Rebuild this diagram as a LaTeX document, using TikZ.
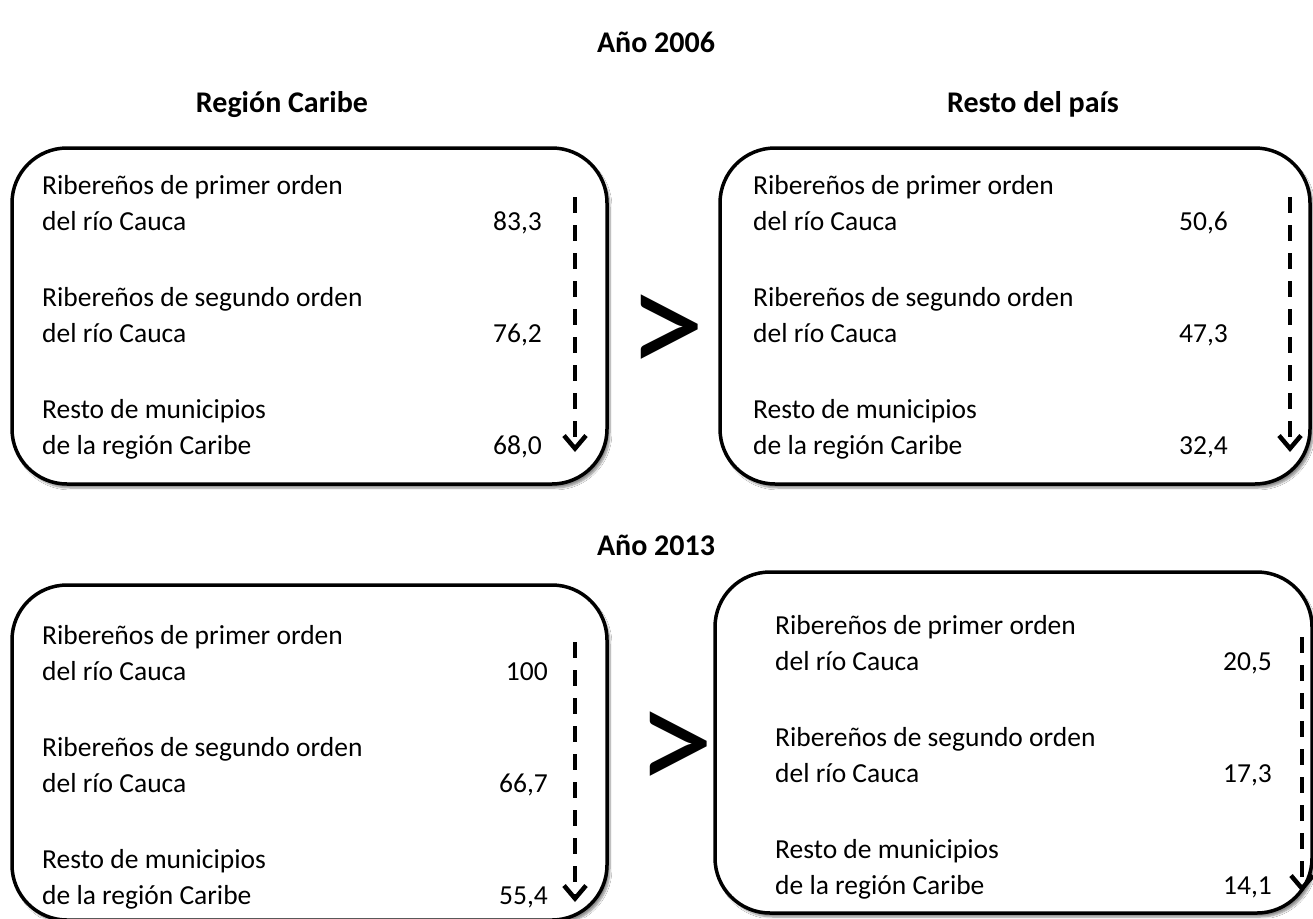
\documentclass[tikz,border=0pt]{standalone}
\usepackage{fontspec}
\setmainfont{Carlito}
\usetikzlibrary{arrows.meta,shadows.blur}
\tikzset{
  panel/.style={draw, line width=3.5pt, rounded corners=55pt, fill=white, inner sep=0pt,
    blur shadow={shadow xshift=3pt, shadow yshift=-4pt, shadow blur steps=6, shadow opacity=45}},
  item/.style={anchor=base west, align=left, inner sep=0pt, font=\fontsize{27.5}{36}\selectfont},
  value/.style={anchor=base east, inner sep=0pt, font=\fontsize{27.5}{36}\selectfont},
  heading/.style={anchor=base, inner sep=0pt, font=\bfseries\fontsize{30}{36}\selectfont},
  gt/.style={inner sep=0pt, font=\fontsize{156}{156}\selectfont},
  trend/.style={line width=4.5pt, dash pattern=on 16pt off 12pt, -{Straight Barb[length=13pt,width=22pt]}}
}
\begin{document}
\begin{tikzpicture}[x=1pt, y=-1pt]
\useasboundingbox[fill=white] (0,0) rectangle (1313,918);

% headings
\node[heading] (y06) at (656,52) {Año 2006};
\node[heading] (hcar) at (282,112) {Región Caribe};
\node[heading] (hres) at (1033,112) {Resto del país};
\node[heading] (y13) at (656,555) {Año 2013};

% panels
\node[panel, minimum width=595, minimum height=336] (car06) at (309.5,316) {};
\node[panel, minimum width=590, minimum height=336] (res06) at (1015,316) {};
\node[panel, minimum width=595, minimum height=335] (car13) at (309.5,752.5) {};
\node[panel, minimum width=597, minimum height=341] (res13) at (1013.5,742.5) {};

% region Caribe 2006
\node[item] (c06a) at (42,230) {Ribereños de primer orden\\del río Cauca};
\node[item] (c06b) at (42,342) {Ribereños de segundo orden\\del río Cauca};
\node[item] (c06c) at (42,454) {Resto de municipios\\de la región Caribe};
\node[value] (c06av) at (542,230) {83,3};
\node[value] (c06bv) at (542,342) {76,2};
\node[value] (c06cv) at (542,454) {68,0};
\coordinate (c06top) at (575,197);
\coordinate (c06bot) at (575,452);
\draw[trend] (c06top) -- (c06bot);

% resto del pais 2006
\node[item] (r06a) at (753,230) {Ribereños de primer orden\\del río Cauca};
\node[item] (r06b) at (753,342) {Ribereños de segundo orden\\del río Cauca};
\node[item] (r06c) at (753,454) {Resto de municipios\\de la región Caribe};
\node[value] (r06av) at (1228,230) {50,6};
\node[value] (r06bv) at (1228,342) {47,3};
\node[value] (r06cv) at (1228,454) {32,4};
\coordinate (r06top) at (1290,197);
\coordinate (r06bot) at (1290,452);
\draw[trend] (r06top) -- (r06bot);

% region Caribe 2013
\node[item] (c13a) at (42,680) {Ribereños de primer orden\\del río Cauca};
\node[item] (c13b) at (42,792) {Ribereños de segundo orden\\del río Cauca};
\node[item] (c13c) at (42,904) {Resto de municipios\\de la región Caribe};
\node[value] (c13av) at (548,680) {100};
\node[value] (c13bv) at (548,792) {66,7};
\node[value] (c13cv) at (548,904) {55,4};
\coordinate (c13top) at (575,642);
\coordinate (c13bot) at (575,902);
\draw[trend] (c13top) -- (c13bot);

% resto del pais 2013
\node[item] (r13a) at (775,670) {Ribereños de primer orden\\del río Cauca};
\node[item] (r13b) at (775,782) {Ribereños de segundo orden\\del río Cauca};
\node[item] (r13c) at (775,894) {Resto de municipios\\de la región Caribe};
\node[value] (r13av) at (1272,670) {20,5};
\node[value] (r13bv) at (1272,782) {17,3};
\node[value] (r13cv) at (1272,894) {14,1};
\coordinate (r13top) at (1302,637);
\coordinate (r13bot) at (1302,892);
\draw[trend] (r13top) -- (r13bot);

% comparison signs
\node[gt] (gt06) at (666,336) {>};
\node[gt] (gt13) at (675,753) {>};
\end{tikzpicture}
\end{document}
